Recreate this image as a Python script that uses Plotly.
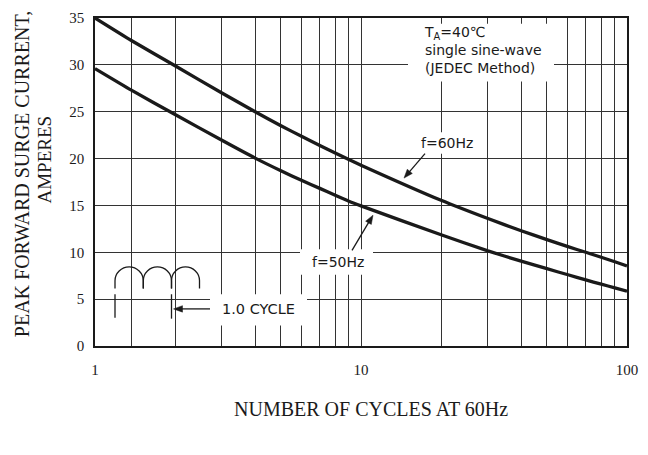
import math
import plotly.graph_objects as go

# ---- data ----
cycles = [1, 1.37, 2, 3, 4, 5, 6, 7, 8, 9, 10, 20, 30, 40, 50, 60, 70, 80, 90, 100]
surge_60hz = [35.0, 32.6, 29.9, 27.0, 25.0, 23.5, 22.35, 21.4, 20.6, 19.9, 19.3,
              15.55, 13.6, 12.3, 11.35, 10.6, 10.0, 9.47, 8.99, 8.55]
surge_50hz = [29.6, 27.3, 24.7, 21.95, 20.05, 18.7, 17.65, 16.82, 16.08, 15.45, 14.95,
              11.87, 10.15, 9.05, 8.25, 7.6, 7.05, 6.6, 6.2, 5.85]

x_major_ticks = [1, 10, 100]
x_major_labels = ["1", "10", "100"]
x_minor_grid = [1.37, 2, 3, 4, 5, 6, 7, 8, 9, 20, 30, 40, 50, 60, 70, 80, 90]
y_ticks = [0, 5, 10, 15, 20, 25, 30, 35]

# ---- geometry (window pixels); page body margin is removed by post_script ----
X0, X1, Y0, Y1 = 95, 627, 10, 346
W, H = 648, 455
L, T = X0, Y0
R, B = W - X1, H - Y1


def px(x):
    return (x - X0) / (X1 - X0)


def py(y):
    return (Y1 - y) / (Y1 - Y0)


SERIF = "Liberation Serif"
SANS = "DejaVu Sans"
INK = "#1a1a1a"
GRID = "#333333"

fig = go.Figure()
for ys in (surge_60hz, surge_50hz):
    fig.add_trace(go.Scatter(x=cycles, y=ys, mode="lines",
                             line=dict(color=INK, width=3.3, shape="spline", smoothing=0.5),
                             showlegend=False, hoverinfo="skip"))

shapes = []
# white masks behind texts
for (x0, y0, x1, y1) in [(408, 16, 554, 75), (414, 127, 480, 149),
                         (300, 247, 373, 273), (210, 293, 307, 325)]:
    shapes.append(dict(type="rect", xref="paper", yref="paper",
                       x0=px(x0), x1=px(x1), y0=py(y1), y1=py(y0),
                       fillcolor="white", line=dict(width=0), layer="above"))

# sine-wave humps symbol
k = 0.5523
edges = [115, 143.3, 171.5, 199.5]
for a, b in zip(edges[:-1], edges[1:]):
    r = (b - a) / 2
    c = (a + b) / 2
    yb, ym, yt = 287, 265 + r, 265
    pts = (f"M{px(a)},{py(yb)} L{px(a)},{py(ym)} "
           f"C{px(a)},{py(ym - k*r)} {px(c - k*r)},{py(yt)} {px(c)},{py(yt)} "
           f"C{px(c + k*r)},{py(yt)} {px(b)},{py(ym - k*r)} {px(b)},{py(ym)} "
           f"L{px(b)},{py(yb)}")
    shapes.append(dict(type="path", xref="paper", yref="paper", path=pts,
                       line=dict(color=INK, width=1.3), layer="above"))
for xt, ya, yb2 in [(115, 293, 317), (171.5, 293, 318)]:
    shapes.append(dict(type="line", xref="paper", yref="paper",
                       x0=px(xt), x1=px(xt), y0=py(ya), y1=py(yb2),
                       line=dict(color=INK, width=1.3), layer="above"))

# arrows (head, tail) drawn as line + filled head
for (hx, hy, tx, ty) in [(404, 174, 425, 149), (373, 212, 352, 248), (173.5, 308, 210, 308)]:
    d = math.hypot(hx - tx, hy - ty)
    ux, uy = (hx - tx) / d, (hy - ty) / d
    hl, hw = 9, 3.3
    bx, by = hx - ux * hl, hy - uy * hl
    shapes.append(dict(type="line", xref="paper", yref="paper",
                       x0=px(tx), y0=py(ty), x1=px(bx + ux), y1=py(by + uy),
                       line=dict(color=INK, width=1.3), layer="above"))
    p1 = (bx - uy * hw, by + ux * hw)
    p2 = (bx + uy * hw, by - ux * hw)
    shapes.append(dict(type="path", xref="paper", yref="paper",
                       path=f"M{px(hx)},{py(hy)} L{px(p1[0])},{py(p1[1])} L{px(p2[0])},{py(p2[1])} Z",
                       fillcolor=INK, line=dict(color=INK, width=0.5), layer="above"))

annotations = []
afont = dict(family=SANS, size=14, color=INK)


def note(x, y, text, font, **kw):
    d = dict(xref="paper", yref="paper", x=px(x), y=py(y), text=text, showarrow=False,
             font=font, xanchor="center", yanchor="middle")
    d.update(kw)
    annotations.append(d)


note(423, 43, "T<sub>A</sub>=40℃<br>single sine-wave<br>(JEDEC Method)", afont,
     xanchor="left", align="left", borderpad=0)
note(446.7, 138, "f=60Hz", afont)
note(338, 260, "f=50Hz", afont)
note(258.5, 308, "1.0 CYCLE", dict(family=SANS, size=14.5, color=INK))
note(22, 170, "PEAK FORWARD SURGE CURRENT,", dict(family=SERIF, size=20, color=INK), textangle=-90)
note(45, 155, "AMPERES", dict(family=SERIF, size=19, color=INK), textangle=-90)
note(371, 411, "NUMBER OF CYCLES AT 60Hz", dict(family=SERIF, size=20, color=INK))

fig.update_layout(
    width=W, height=H,
    margin=dict(l=L, r=R, t=T, b=B, pad=0),
    paper_bgcolor="white", plot_bgcolor="white",
    hovermode=False,
    shapes=shapes, annotations=annotations,
    xaxis=dict(type="log", range=[0, 2], tickvals=x_major_ticks, ticktext=x_major_labels,
               showgrid=True, gridcolor=GRID, gridwidth=1.3,
               minor=dict(tickvals=x_minor_grid, showgrid=True, gridcolor=GRID, gridwidth=1.3, ticks=""),
               showline=True, linecolor=INK, linewidth=1.5, mirror=True,
               ticks="", ticklabelstandoff=9, zeroline=False,
               tickfont=dict(family=SERIF, size=15, color=INK)),
    yaxis=dict(range=[0, 35], tickvals=y_ticks, showgrid=True, gridcolor=GRID, gridwidth=1.3,
               showline=True, linecolor=INK, linewidth=1.5, mirror=True,
               ticks="", ticklabelstandoff=6, zeroline=False,
               tickfont=dict(family=SERIF, size=15, color=INK)),
)

fig.write_html("out.html",
               config={"displayModeBar": False},
               post_script="document.body.style.margin='0';document.body.style.overflow='hidden';")
